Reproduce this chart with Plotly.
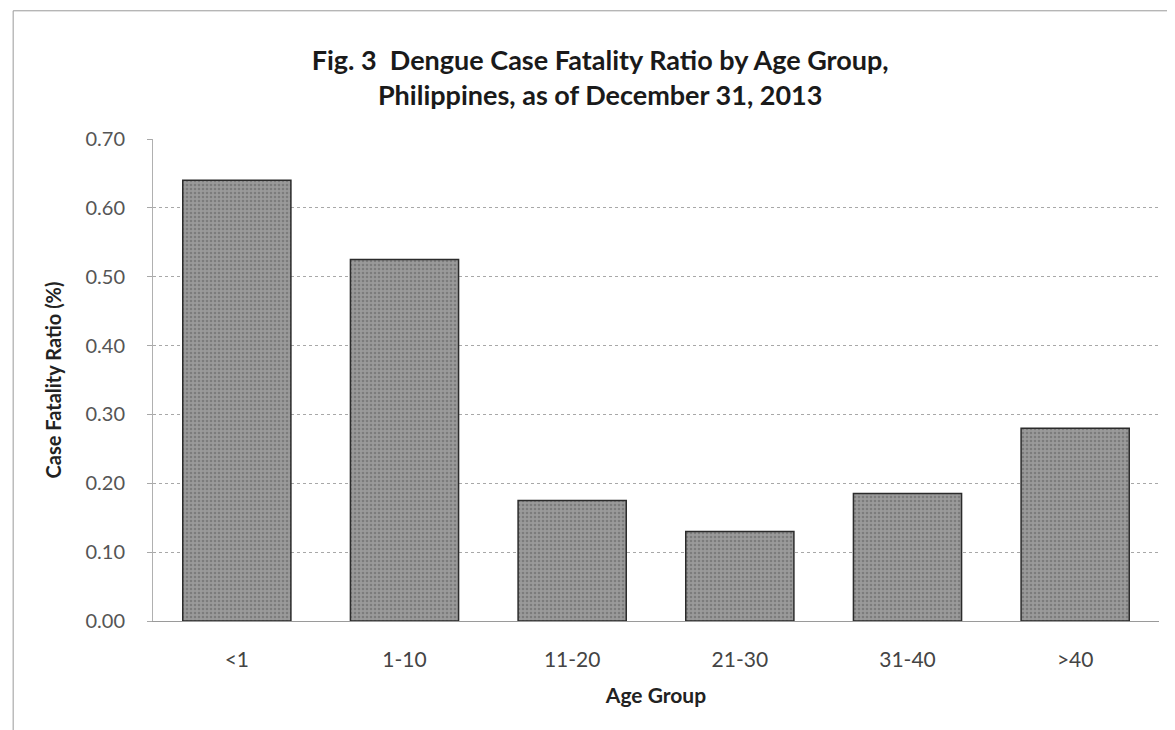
import plotly.graph_objects as go

age_groups = ["<1", "1-10", "11-20", "21-30", "31-40", ">40"]
cfr_pct = [0.64, 0.525, 0.175, 0.13, 0.185, 0.28]
y_ticks = [0.0, 0.1, 0.2, 0.3, 0.4, 0.5, 0.6, 0.7]
y_tick_text = ["0.00", "0.10", "0.20", "0.30", "0.40", "0.50", "0.60", "0.70"]

fig = go.Figure(
    go.Bar(
        x=age_groups,
        y=cfr_pct,
        marker=dict(
            color="#8e8e8e",
            line=dict(color="#2b2b2b", width=1.5),
            pattern=dict(shape=".", fgcolor="#5e5e5e", bgcolor="#9a9a9a", size=4, solidity=0.35),
        ),
        width=0.645,
    )
)

fig.update_layout(
    width=1175,
    height=730,
    paper_bgcolor="white",
    plot_bgcolor="white",
    margin=dict(l=145, r=24, t=131, b=117),
    font=dict(family="Lato", color="#222"),
    title=dict(
        text="<b>Fig. 3  Dengue Case Fatality Ratio by Age Group,<br>Philippines, as of December 31, 2013</b>",
        x=0.504,
        xanchor="center",
        y=0.915,
        yanchor="middle",
        font=dict(size=27, color="#1a1a1a"),
    ),
    showlegend=False,
)

fig.update_xaxes(
    title=dict(text="<b>Age Group</b>", font=dict(size=21, color="#222"), standoff=18),
    tickfont=dict(size=21, color="#444"),
    ticklabelstandoff=20,
    showline=True,
    linecolor="#9a9a9a",
    linewidth=1,
    ticks="",
)

fig.update_yaxes(
    range=[0, 0.7],
    tickvals=y_ticks,
    ticktext=y_tick_text,
    tickfont=dict(size=20, color="#555"),
    ticklabelstandoff=18,
    title=dict(text="<b>Case Fatality Ratio (%)</b>", font=dict(size=20, color="#222"), standoff=18),
    showgrid=True,
    gridcolor="#a8a8a8",
    griddash="dot",
    gridwidth=1,
    showline=True,
    linecolor="#b0b0b0",
    linewidth=1,
    ticks="outside",
    ticklen=5,
    tickcolor="#a8a8a8",
    zeroline=False,
)

# faint scan frame on top and left edges
fig.add_shape(type="line", xref="paper", yref="paper", x0=-0.139, x1=1.03, y0=1.266, y1=1.266,
              line=dict(color="#9a9a9a", width=1))
fig.add_shape(type="line", xref="paper", yref="paper", x0=-0.139, x1=-0.139, y0=-0.25, y1=1.266,
              line=dict(color="#9a9a9a", width=1))

fig.write_html("out.html")
